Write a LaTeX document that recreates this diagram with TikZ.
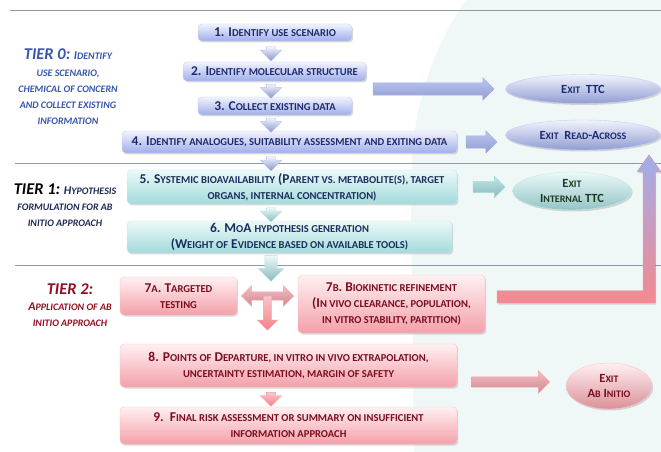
\documentclass[tikz,border=0pt]{standalone}
\usepackage{fontspec}
\setmainfont{Carlito}
\usetikzlibrary{shapes.geometric,shapes.arrows,shadows,calc}

\definecolor{bluetop}{HTML}{F1F3FD}
\definecolor{bluebot}{HTML}{A0AEEA}
\definecolor{bluetxt}{HTML}{1F2B6E}
\definecolor{tealtop}{HTML}{ECF9F9}
\definecolor{tealbot}{HTML}{A3DADB}
\definecolor{tealtxt}{HTML}{1B2E5C}
\definecolor{pinktop}{HTML}{FFF0F2}
\definecolor{pinkbot}{HTML}{F3A0A9}
\definecolor{pinktxt}{HTML}{7C0D1E}
\definecolor{greentxt}{HTML}{1C3A22}
\definecolor{tierblue}{HTML}{3656AE}
\definecolor{tiernavy}{HTML}{1E2A55}
\definecolor{tierred}{HTML}{8E1020}
\definecolor{rulecol}{HTML}{8E98B0}
\definecolor{mint}{HTML}{F0F8F7}

\newcommand{\lscsize}{10.6}
\newcommand{\lsc}[1]{{\fontsize{\lscsize}{16}\selectfont\MakeUppercase{#1}}}
\newcommand{\tierbig}{\fontsize{16.5}{16.5}\selectfont}

\begin{document}
\begin{tikzpicture}[x=1bp, y=-1bp,
    box/.style={rectangle, rounded corners=4bp, align=center, inner sep=1bp,
        font=\bfseries\fontsize{13.5}{16.3}\selectfont,
        drop shadow={opacity=0.3, shadow xshift=1.2bp, shadow yshift=-1.5bp}},
    bluebox/.style={box, top color=bluetop, bottom color=bluebot, draw=bluebot!60!white, text=bluetxt},
    tealbox/.style={box, top color=tealtop, bottom color=tealbot, draw=tealbot!60!white, text=tealtxt},
    pinkbox/.style={box, top color=pinktop, bottom color=pinkbot, draw=pinkbot!60!white, text=pinktxt},
    exitell/.style={ellipse, align=center, inner sep=0pt,
        font=\def\lscsize{10}\bfseries\fontsize{12.5}{15.5}\selectfont,
        drop shadow={opacity=0.3, shadow xshift=1.2bp, shadow yshift=-1.5bp}},
    blueell/.style={exitell, top color=bluetop, bottom color=bluebot!90!black, draw=bluebot!60!white, text=bluetxt},
    tealell/.style={exitell, top color=tealtop, bottom color=tealbot!90!black, draw=tealbot!60!white, text=greentxt},
    pinkell/.style={exitell, top color=pinktop, bottom color=pinkbot!90!black, draw=pinkbot!60!white, text=pinktxt},
    tier/.style={align=center, inner sep=0pt,
        font=\def\lscsize{10}\bfseries\itshape\fontsize{12}{16.3}\selectfont},
    blkarr/.style={single arrow, inner sep=4.5bp, single arrow head extend=6bp},
    downarr/.style={blkarr, shape border rotate=270, minimum height=13bp},
    hblue/.style={top color=bluebot!70!white, middle color=bluetop, bottom color=bluebot!90!black, draw=bluebot},
    hteal/.style={top color=tealbot!70!white, middle color=tealtop, bottom color=tealbot!85!black, draw=tealbot},
    hpink/.style={top color=pinkbot!70!white, middle color=pinktop, bottom color=pinkbot!85!black, draw=pinkbot},
    vblue/.style={top color=bluetop, bottom color=bluebot!85!black, draw=bluebot!80!white},
    vteal/.style={top color=tealtop, bottom color=tealbot!85!black, draw=tealbot!80!white},
    vpink/.style={top color=pinkbot!60!white, bottom color=pinkbot!80!red, draw=pinkbot}]
    \useasboundingbox (0,0) rectangle (661,452);
    % background
    \fill[white] (0,0) rectangle (661,452);
    \fill[mint] (466,0) .. controls (425,60) and (410,120) .. (411,200) -- (414,452) -- (661,452) -- (661,0) -- cycle;
    \draw[rulecol, line width=0.8bp] (10,10) -- (661,10);
    \draw[rulecol, line width=0.8bp] (15,163) -- (661,163);
    \draw[rulecol, line width=0.8bp] (15,265) -- (661,265);
    % tier labels
    \node[tier, text=tierblue] (t0) at (68,87) {{\tierbig TIER 0:} I\lsc{dentify}\\\lsc{use scenario,}\\\lsc{chemical of concern}\\\lsc{and collect existing}\\\lsc{information}};
    \node[tier, text=tiernavy] (t1) at (65,205) {{\tierbig\color{black}TIER 1:} H\lsc{ypothesis}\\\lsc{formulation for ab}\\\lsc{initio approach}};
    \node[tier, text=tierred] (t2) at (70,305) {{\tierbig TIER 2:}\\A\lsc{pplication of ab}\\\lsc{initio approach}};
    % tier 0
    \node[bluebox, minimum width=154bp, minimum height=17bp] (b1) at (275,32.5) {1. I\lsc{dentify use scenario}};
    \node[bluebox, minimum width=183bp, minimum height=19bp] (b2) at (274.5,71.5) {2. I\lsc{dentify molecular structure}};
    \node[bluebox, minimum width=154bp, minimum height=18bp] (b3) at (275,106) {3. C\lsc{ollect existing data}};
    \node[bluebox, minimum width=335bp, minimum height=22bp] (b4) at (289.5,142) {4. I\lsc{dentify analogues, suitability assessment and exiting data}};
    % tier 1
    \node[tealbox, minimum width=330bp, minimum height=34bp] (b5) at (292,187) {5. S\lsc{ystemic bioavailability} (P\lsc{arent vs. metabolite(s), target}\\\lsc{organs, internal concentration)}};
    \node[tealbox, minimum width=325bp, minimum height=32bp] (b6) at (289.5,237) {6. M\lsc{o}A \lsc{hypothesis generation}\\(W\lsc{eight of} E\lsc{vidence based on available tools)}};
    % tier 2
    \node[pinkbox, minimum width=117bp, minimum height=38bp] (b7a) at (178.5,296) {7\lsc{a}. T\lsc{argeted}\\\lsc{testing}};
    \node[pinkbox, minimum width=187bp, minimum height=58bp] (b7b) at (391.5,304) {7\lsc{b}. B\lsc{iokinetic refinement}\\(I\lsc{n vivo clearance, population,}\\\lsc{in vitro stability, partition)}};
    \node[pinkbox, minimum width=337bp, minimum height=43bp] (b8) at (288.5,365.5) {8. P\lsc{oints of} D\lsc{eparture, in vitro in vivo extrapolation,}\\\lsc{uncertainty estimation, margin of safety}};
    \node[pinkbox, minimum width=337bp, minimum height=37bp] (b9) at (288.5,425.5) {9.\ \ F\lsc{inal risk assessment or summary on insufficient}\\\lsc{information approach}};
    % exits
    \node[blueell, minimum width=155bp, minimum height=29bp] (ttc) at (583,89) {E\lsc{xit}\ \ TTC};
    \node[blueell, minimum width=155bp, minimum height=30bp] (ra) at (583,135) {E\lsc{xit}\ \ R\lsc{ead}-A\lsc{cross}};
    \node[tealell, minimum width=119bp, minimum height=38bp] (ittc) at (572,191) {E\lsc{xit}\\I\lsc{nternal} TTC};
    \node[pinkell, minimum width=86bp, minimum height=46bp] (abi) at (609,386) {E\lsc{xit}\\A\lsc{b} I\lsc{nitio}};
    % down arrows
    \coordinate (spine) at (271,0);
    \foreach \a/\b in {b1/b2, b2/b3, b3/b4, b4/b5}
        \node[downarr, vblue] at ($(\a.south -| spine)!0.5!(\b.north -| spine)$) {};
    \node[downarr, vteal] (d56) at ($(b5.south -| spine)!0.5!(b6.north -| spine)$) {};
    \node[downarr, vteal, inner sep=6bp, single arrow head extend=6.5bp, minimum height=26bp, anchor=tail] (d67) at ([yshift=-2bp]b6.south -| spine) {};
    \node[downarr, vpink] (d89) at ($(b8.south -| spine)!0.5!(b9.north -| spine)$) {};
    % 7a <-> 7b and down
    \node[double arrow, inner sep=4bp, double arrow head extend=6bp, minimum height=52bp, hpink] (tlr) at ($(b7a.east)!0.5!(b7a.east -| b7b.west)$) {};
    \node[blkarr, shape border rotate=270, inner sep=4bp, minimum height=34bp, anchor=tail, vpink] (tdn) at (tlr.center) {};
    % exit arrows
    \node[blkarr, hblue, inner sep=6bp, single arrow head extend=5bp, minimum height=121bp, anchor=tip] (a1) at ([xshift=-11bp]ttc.west) {};
    \node[blkarr, hblue, inner sep=6bp, single arrow head extend=5bp, minimum height=31bp, anchor=tip] (a2) at ([xshift=-8bp]ra.west |- b4.east) {};
    \node[blkarr, hteal, inner sep=5.5bp, single arrow head extend=5bp, minimum height=32bp, anchor=tip] (a3) at ([xshift=-7bp]ittc.west |- b5.east) {};
    \node[blkarr, hpink, inner sep=5bp, single arrow head extend=6bp, minimum height=78bp, anchor=tip] (a4) at ([xshift=-16bp]abi.west |- 0,382) {};
    % back to read-across
    \fill[top color=bluebot, bottom color=pinkbot!85!red, draw=pinkbot,
        drop shadow={opacity=0.3, shadow xshift=1.2bp, shadow yshift=-1.5bp}]
        (497,291) -- (643,291) -- (643,172) -- (637,172) -- (649,155) -- (661,172)
        -- (655,172) -- (655,303) -- (497,303) -- cycle;
\end{tikzpicture}
\end{document}
